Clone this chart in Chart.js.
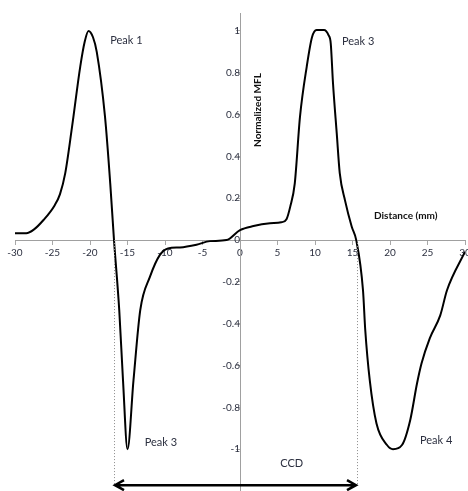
<!DOCTYPE html>
<html>
<head>
<meta charset="utf-8">
<script src="https://cdn.jsdelivr.net/npm/chart.js@4.4.0/dist/chart.umd.min.js"></script>
<style>
  body { margin: 0; background: #fff; }
  #wrap { width: 468px; height: 491px; }
</style>
</head>
<body>
<div id="wrap"><canvas id="mflChart"></canvas></div>
<script>
// distance (mm) and normalized MFL
const distance = [-30, -28.5, -27.5, -26.2, -24.7, -24, -23.3, -22.4, -21.3, -20.7, -20.2, -19.6, -19.1, -18, -17.3,
  -16.8, -16.1, -15.6, -15, -14.2, -13.3, -12, -10.7, -9.6, -8, -5.8, -4, -1.8, 0, 1.8, 4, 5.5, 6.2, 6.7, 7.3, 8,
  8.9, 9.6, 10.2, 11.2, 11.8, 12.1, 12.4, 12.9, 13.3, 14, 14.9, 15.5, 16.4, 16.7, 17.3, 18.2, 19.6, 20.4, 21.6,
  22.7, 23.6, 24.2, 25.3, 26.7, 27.6, 30];
const mfl = [0.033, 0.033, 0.05, 0.096, 0.167, 0.22, 0.32, 0.54, 0.83, 0.95, 1.0, 0.97, 0.9, 0.59, 0.27,
  0, -0.335, -0.67, -1.0, -0.67, -0.335, -0.175, -0.072, -0.04, -0.035, -0.022, -0.005, 0, 0.048, 0.067, 0.08, 0.085, 0.1, 0.16, 0.27, 0.59,
  0.83, 0.97, 1.005, 1.005, 0.98, 0.94, 0.75, 0.51, 0.32, 0.19, 0.064, 0, -0.24, -0.43, -0.67, -0.877, -0.98, -1.0, -0.98,
  -0.86, -0.686, -0.59, -0.47, -0.36, -0.24, -0.056];

const xTicks = [-30, -25, -20, -15, -10, -5, 0, 5, 10, 15, 20, 25, 30];
const yTicks = [-1, -0.8, -0.6, -0.4, -0.2, 0, 0.2, 0.4, 0.6, 0.8, 1];

// zero crossings that bound the CCD
const ccdEdges = [-16.8, 15.6];

const textColor = '#2c3040';

const overlay = {
  id: 'overlay',
  afterDatasetsDraw(chart) {
    const { ctx, scales: { x, y } } = chart;
    const zeroY = y.getPixelForValue(0);
    const arrowY = y.getPixelForValue(-1.172);
    ctx.save();

    // dotted drop lines
    ctx.strokeStyle = '#8c8c8c';
    ctx.lineWidth = 1;
    ctx.setLineDash([1, 2]);
    ccdEdges.forEach(v => {
      const px = Math.round(x.getPixelForValue(v)) + 0.5;
      ctx.beginPath();
      ctx.moveTo(px, zeroY);
      ctx.lineTo(px, arrowY);
      ctx.stroke();
    });

    // double arrow
    ctx.setLineDash([]);
    ctx.strokeStyle = '#000';
    ctx.lineWidth = 2.5;
    const x1 = x.getPixelForValue(ccdEdges[0]);
    const x2 = x.getPixelForValue(ccdEdges[1]);
    ctx.beginPath();
    ctx.moveTo(x1 + 1, arrowY);
    ctx.lineTo(x2 - 1, arrowY);
    ctx.moveTo(x1 + 10, arrowY - 5);
    ctx.lineTo(x1 + 1, arrowY);
    ctx.lineTo(x1 + 10, arrowY + 5);
    ctx.moveTo(x2 - 10, arrowY - 5);
    ctx.lineTo(x2 - 1, arrowY);
    ctx.lineTo(x2 - 10, arrowY + 5);
    ctx.stroke();

    // text
    ctx.fillStyle = textColor;
    ctx.textBaseline = 'middle';
    ctx.font = '11px Lato';
    ctx.textAlign = 'left';
    [['Peak 1', -17.3, 0.957], ['Peak 3', 13.6, 0.952], ['Peak 3', -12.7, -0.97], ['Peak 4', 24, -0.957]]
      .forEach(([t, vx, vy]) => ctx.fillText(t, x.getPixelForValue(vx), y.getPixelForValue(vy)));
    ctx.textAlign = 'center';
    ctx.fillText('CCD', x.getPixelForValue(6.9), y.getPixelForValue(-1.067));

    ctx.fillStyle = '#111';
    ctx.font = 'bold 10px Lato';
    ctx.fillText('Distance (mm)', x.getPixelForValue(22.1), y.getPixelForValue(0.115));
    ctx.translate(x.getPixelForValue(2.4), y.getPixelForValue(0.622));
    ctx.rotate(-Math.PI / 2);
    ctx.fillText('Normalized MFL', 0, 0);
    ctx.restore();
  }
};

Chart.defaults.font.family = 'Lato';

new Chart(document.getElementById('mflChart'), {
  type: 'line',
  data: {
    datasets: [{
      data: distance.map((d, i) => ({ x: d, y: mfl[i] })),
      borderColor: '#000',
      borderWidth: 2,
      pointRadius: 0,
      cubicInterpolationMode: 'monotone',
      fill: false
    }]
  },
  options: {
    responsive: true,
    maintainAspectRatio: false,
    animation: false,
    layout: { padding: { left: 15, right: 3, top: 13, bottom: 0 } },
    plugins: { legend: { display: false }, tooltip: { enabled: false } },
    scales: {
      x: {
        type: 'linear',
        min: -30,
        max: 30,
        position: { y: 0 },
        afterBuildTicks: s => { s.ticks = xTicks.map(v => ({ value: v })); },
        afterFit: s => { s.paddingLeft = 0; s.paddingRight = 0; },
        grid: { drawOnChartArea: false, tickLength: 4, color: '#a8a8a8' },
        border: { color: '#a0a0a0' },
        ticks: { color: textColor, font: { size: 10 }, padding: 3, maxRotation: 0, autoSkip: false }
      },
      y: {
        type: 'linear',
        min: -1.2,
        max: 1.086,
        position: { x: 0 },
        afterBuildTicks: s => { s.ticks = yTicks.map(v => ({ value: v })); },
        afterFit: s => { s.paddingTop = 0; s.paddingBottom = 0; },
        grid: { drawOnChartArea: false, tickLength: 4, color: '#a8a8a8' },
        border: { color: '#a0a0a0' },
        ticks: {
          color: textColor, font: { size: 10 }, padding: 6, autoSkip: false,
          callback: v => String(Math.round(v * 10) / 10)
        }
      }
    }
  },
  plugins: [overlay]
});
</script>
</body>
</html>
